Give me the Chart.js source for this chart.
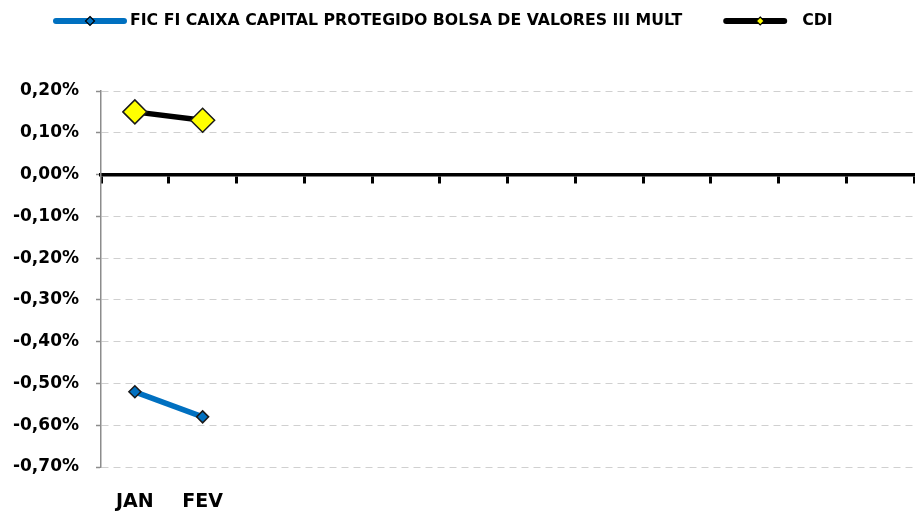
<!DOCTYPE html>
<html>
<head>
<meta charset="utf-8">
<script src="https://cdn.jsdelivr.net/npm/chart.js@4.4.1/dist/chart.umd.min.js"></script>
<style>
  html, body { margin: 0; padding: 0; background: #fff; overflow: hidden; }
  canvas { display: block; }
</style>
</head>
<body>
<canvas id="rentChart" width="915" height="513"></canvas>
<script>
// data (values in %)
const months = ['JAN', 'FEV', '', '', '', '', '', '', '', '', '', '']
const fundLabel = 'FIC FI CAIXA CAPITAL PROTEGIDO BOLSA DE VALORES III MULT'
const fundValues = [-0.52, -0.58]
const cdiLabel = 'CDI'
const cdiValues = [0.15, 0.13]
const yTickValues = [0.2, 0.1, 0, -0.1, -0.2, -0.3, -0.4, -0.5, -0.6, -0.7]

const FONT = '"DejaVu Sans", sans-serif'

function pct(v) {
  return (Math.round(v * 100) / 100).toFixed(2).replace('.', ',') + '%'
}

// Excel style legend: thick line with a small diamond in the middle
const excelLegend = {
  id: 'excelLegend',
  afterDraw(chart) {
    const ctx = chart.ctx
    const y = 21
    ctx.save()
    ctx.font = 'bold 15.75px ' + FONT
    ctx.textBaseline = 'middle'
    let x = 53
    chart.data.datasets.forEach((ds, i) => {
      const lineW = i === 0 ? 74 : 64
      ctx.lineCap = 'round'
      ctx.lineWidth = 6
      ctx.strokeStyle = ds.borderColor
      ctx.beginPath()
      ctx.moveTo(x + 3, y)
      ctx.lineTo(x + lineW - 3, y)
      ctx.stroke()
      const cx = x + lineW / 2 + (i === 0 ? 0 : 5)
      const r = i === 0 ? 4.5 : 4
      ctx.beginPath()
      ctx.moveTo(cx, y - r)
      ctx.lineTo(cx + r, y)
      ctx.lineTo(cx, y + r)
      ctx.lineTo(cx - r, y)
      ctx.closePath()
      ctx.fillStyle = ds.pointBackgroundColor
      ctx.fill()
      ctx.lineWidth = 1.2
      ctx.strokeStyle = '#000'
      ctx.stroke()
      const tx = x + lineW + (i === 0 ? 3 : 15)
      ctx.fillStyle = '#000'
      ctx.fillText(ds.label, tx, y)
      x = tx + ctx.measureText(ds.label).width + 41
    })
    ctx.restore()
  },
}

const ctx = document.getElementById('rentChart').getContext('2d')
const chart = new Chart(ctx, {
  type: 'line',
  data: {
    labels: months,
    datasets: [
      {
        label: fundLabel,
        data: fundValues,
        borderColor: '#0070C0',
        borderWidth: 5.5,
        pointStyle: 'rectRot',
        pointRadius: 6,
        pointBackgroundColor: '#0070C0',
        pointBorderColor: '#1a1a1a',
        pointBorderWidth: 1.5,
        tension: 0,
      },
      {
        label: cdiLabel,
        data: cdiValues,
        borderColor: '#000000',
        borderWidth: 5.5,
        pointStyle: 'rectRot',
        pointRadius: 12,
        pointBackgroundColor: '#FFFF00',
        pointBorderColor: '#1a1a1a',
        pointBorderWidth: 1.5,
        tension: 0,
      },
    ],
  },
  options: {
    responsive: false,
    animation: false,
    devicePixelRatio: 1,
    layout: { autoPadding: false, padding: { top: 91, left: 12, right: 1, bottom: 0 } },
    plugins: {
      legend: { display: false },
      tooltip: { enabled: false },
    },
    scales: {
      x: {
        type: 'category',
        offset: true,
        grid: { display: false, drawTicks: false, tickLength: 0 },
        border: { display: false },
        ticks: {
          padding: 24,
          color: '#000',
          font: { family: FONT, size: 19, weight: 'bold' },
          maxRotation: 0,
          autoSkip: false,
        },
        afterFit: (scale) => {
          scale.height = 46
          scale.paddingLeft = 0
          scale.paddingRight = 0
        },
      },
      // axis line drawn at zero with its tick marks, like Excel
      xZero: {
        type: 'category',
        axis: 'x',
        position: { y: 0 },
        offset: true,
        grid: {
          offset: true,
          drawOnChartArea: false,
          tickLength: 7,
          tickWidth: 3,
          tickColor: '#000',
        },
        border: { color: '#000', width: 3.5 },
        ticks: { display: false },
        afterFit: (scale) => {
          scale.height = 0
          scale.paddingLeft = 0
          scale.paddingRight = 0
        },
      },
      y: {
        min: -0.7,
        max: 0.2,
        afterBuildTicks: (scale) => {
          scale.ticks = yTickValues.map((v) => ({ value: v }))
        },
        afterFit: (scale) => {
          scale.width = 89
        },
        grid: {
          color: (c) => (c.tick && c.tick.value === 0 ? 'rgba(0,0,0,0)' : '#d0d0d0'),
          lineWidth: 1,
          tickLength: 5,
          tickColor: '#8c8c8c',
          tickWidth: 1.5,
        },
        border: { color: '#8c8c8c', width: 1.5, dash: [7, 5] },
        ticks: {
          padding: 17,
          color: '#000',
          font: { family: FONT, size: 17, weight: 'bold' },
          callback: (v) => pct(v),
        },
      },
    },
  },
  plugins: [excelLegend],
})
</script>
</body>
</html>
